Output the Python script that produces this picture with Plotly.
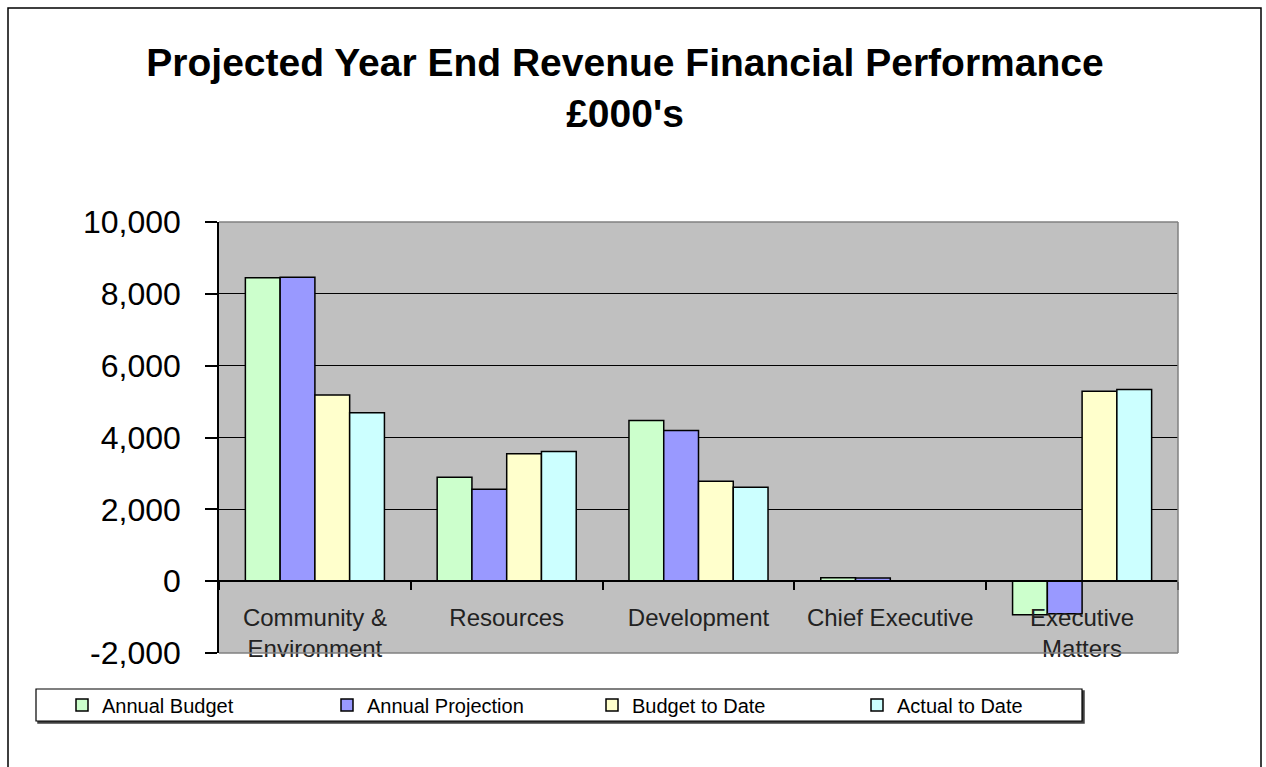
import plotly.graph_objects as go

# ---------------- data ----------------
categories = ["Community &<br>Environment", "Resources", "Development",
              "Chief Executive", "Executive<br>Matters"]
series_names = ["Annual Budget", "Annual Projection", "Budget to Date", "Actual to Date"]
annual_budget = [8450, 2890, 4475, 95, -935]
annual_projection = [8460, 2560, 4195, 90, -910]
budget_to_date = [5180, 3545, 2785, 0, 5290]
actual_to_date = [4690, 3610, 2615, 0, 5335]
y_tickvals = [-2000, 0, 2000, 4000, 6000, 8000, 10000]
y_ticktext = ["-2,000", "0", "2,000", "4,000", "6,000", "8,000", "10,000"]
title_text = "<b>Projected Year End Revenue Financial Performance<br>£000's</b>"

# ---------------- styles ----------------
colors = ["#CCFFCC", "#9999FF", "#FFFFCC", "#CCFFFF"]
W, H = 1266, 767
L, R, T, B = 219, 88, 222, 114
PW, PH = W - L - R, H - T - B
FONT = "Arial, Liberation Sans, sans-serif"


def px(x):
    return (x - L) / PW


def py(y):
    return (H - B - y) / PH


fig = go.Figure()
for name, vals, col in zip(series_names,
                           [annual_budget, annual_projection, budget_to_date, actual_to_date],
                           colors):
    fig.add_trace(go.Bar(x=categories, y=vals, name=name,
                         marker=dict(color=col, line=dict(color="black", width=1.5))))

ymin, ymax = y_tickvals[0], y_tickvals[-1]

fig.update_layout(
    width=W, height=H,
    margin=dict(l=L, r=R, t=T, b=B, autoexpand=False),
    paper_bgcolor="white",
    plot_bgcolor="#C0C0C0",
    barmode="group", bargap=0.275, bargroupgap=0,
    font=dict(family=FONT, color="black"),
    title=dict(text=title_text, x=625 / W, xanchor="center", xref="container",
               y=1 - 76 / H, yanchor="top", yref="container",
               font=dict(family=FONT, size=39, color="black")),
    showlegend=True,
    legend=dict(orientation="h", x=px(62), xanchor="left", y=py(705), yanchor="middle",
                bgcolor="rgba(0,0,0,0)", borderwidth=0,
                font=dict(family=FONT, size=20, color="black"),
                entrywidth=220, entrywidthmode="pixels", itemclick=False),
    xaxis=dict(type="category", anchor="free", position=(0 - ymin) / (ymax - ymin),
               showline=True, linecolor="black", linewidth=1.5,
               ticks="outside", tickson="boundaries", ticklen=8, tickwidth=1.5,
               tickcolor="black", showgrid=False,
               tickfont=dict(family=FONT, size=24, color="#222222"),
               ticklabelstandoff=15),
    yaxis=dict(range=[ymin, ymax], domain=[0, 1], tickvals=y_tickvals, ticktext=y_ticktext,
               showline=True, linecolor="black", linewidth=1.5,
               ticks="outside", ticklen=12, tickwidth=1.5, tickcolor="black",
               showgrid=True, gridcolor="black", gridwidth=1, zeroline=False,
               tickfont=dict(family=FONT, size=32, color="black"),
               ticklabelstandoff=18),
)

shapes = [
    # outer chart frame
    dict(type="rect", xref="paper", yref="paper", x0=px(8), x1=px(1261), y0=py(820), y1=py(8),
         line=dict(color="black", width=1.5), fillcolor="rgba(0,0,0,0)", layer="above"),
    # plot area gray border (top, right, bottom)
    dict(type="line", xref="paper", yref="paper", x0=0, x1=1, y0=1, y1=1,
         line=dict(color="#808080", width=1.5), layer="above"),
    dict(type="line", xref="paper", yref="paper", x0=1, x1=1, y0=0, y1=1,
         line=dict(color="#808080", width=1.5), layer="above"),
    dict(type="line", xref="paper", yref="paper", x0=0, x1=1, y0=0, y1=0,
         line=dict(color="#808080", width=1.5), layer="above"),
    # legend box shadow and box
    dict(type="rect", xref="paper", yref="paper", x0=px(38), x1=px(1084), y0=py(723), y1=py(691),
         line=dict(color="#404040", width=1.5), fillcolor="#404040", layer="above"),
    dict(type="rect", xref="paper", yref="paper", x0=px(36), x1=px(1082), y0=py(721), y1=py(689),
         line=dict(color="black", width=1.2), fillcolor="white", layer="above"),
]
fig.update_layout(shapes=shapes)

fig.write_html("out.html")
